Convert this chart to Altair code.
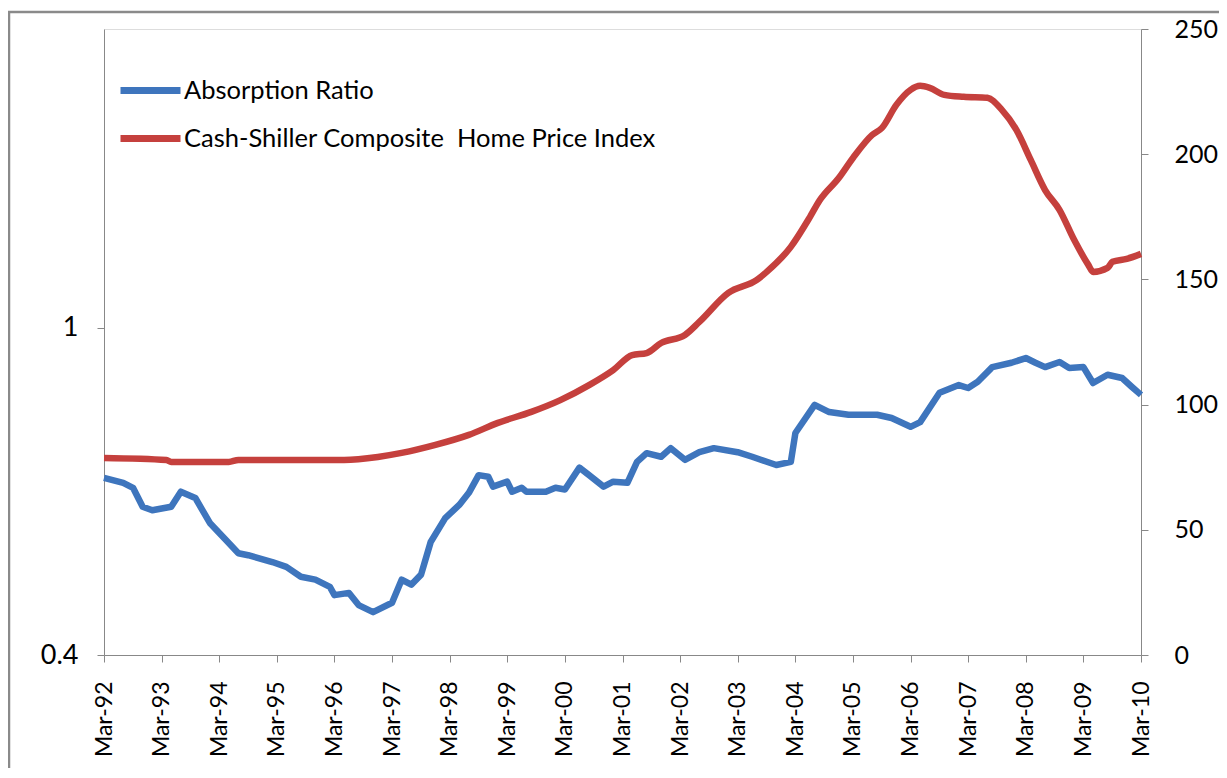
import altair as alt
import pandas as pd

# ---- data ----
ar_dates = ["1992-03", "1992-07", "1992-09", "1992-11", "1993-01", "1993-05", "1993-07", "1993-10",
            "1994-01", "1994-04", "1994-07", "1994-09", "1995-02", "1995-05", "1995-08", "1995-11",
            "1996-02", "1996-03", "1996-06", "1996-08", "1996-11", "1997-03", "1997-05", "1997-07",
            "1997-09", "1997-11", "1998-02", "1998-05", "1998-07", "1998-09", "1998-11", "1998-12",
            "1999-03", "1999-04", "1999-06", "1999-07", "1999-11", "2000-01", "2000-03", "2000-06",
            "2000-08", "2000-11", "2001-01", "2001-04", "2001-06", "2001-08", "2001-11", "2002-01",
            "2002-04", "2002-07", "2002-10", "2003-03", "2003-06", "2003-11", "2004-02", "2004-03",
            "2004-07", "2004-10", "2005-02", "2005-08", "2005-11", "2006-03", "2006-05", "2006-09",
            "2007-01", "2007-03", "2007-05", "2007-08", "2007-12", "2008-03", "2008-05", "2008-07",
            "2008-10", "2008-12", "2009-03", "2009-05", "2009-08", "2009-11", "2010-01", "2010-03"]
ar_values = [0.657, 0.648, 0.639, 0.606, 0.600, 0.606, 0.632, 0.621,
             0.579, 0.555, 0.532, 0.529, 0.519, 0.512, 0.498, 0.494,
             0.484, 0.473, 0.476, 0.460, 0.451, 0.463, 0.494, 0.487,
             0.501, 0.549, 0.587, 0.609, 0.630, 0.662, 0.659, 0.641,
             0.650, 0.632, 0.639, 0.632, 0.632, 0.639, 0.636, 0.676,
             0.662, 0.641, 0.650, 0.648, 0.687, 0.704, 0.697, 0.714,
             0.691, 0.706, 0.714, 0.706, 0.697, 0.681, 0.687, 0.745,
             0.806, 0.790, 0.784, 0.784, 0.777, 0.758, 0.768, 0.834,
             0.852, 0.845, 0.860, 0.896, 0.907, 0.919, 0.907, 0.896,
             0.909, 0.894, 0.896, 0.857, 0.877, 0.869, 0.848, 0.829]

hpi_dates = ["1992-03", "1993-04", "1993-05", "1994-05", "1994-07", "1996-05", "1996-12", "1997-05",
             "1997-12", "1998-07", "1999-01", "1999-08", "2000-02", "2000-08", "2001-01", "2001-05",
             "2001-08", "2001-11", "2002-04", "2002-07", "2003-01", "2003-07", "2003-09", "2004-02",
             "2004-06", "2004-08", "2004-12", "2005-03", "2005-07", "2005-09", "2005-12", "2006-03",
             "2006-05", "2006-07", "2006-10", "2007-02", "2007-07", "2007-10", "2008-01", "2008-04",
             "2008-07", "2008-10", "2009-01", "2009-04", "2009-05", "2009-08", "2009-09", "2009-12",
             "2010-03"]
hpi_values = [78.7, 77.9, 77.1, 77.1, 77.9, 77.9, 79.1, 80.7,
              83.9, 87.9, 92.7, 97.1, 101.8, 107.8, 113.8, 119.8,
              120.6, 124.6, 127.8, 133.0, 144.6, 149.8, 153.0, 163.0,
              174.9, 181.5, 190.5, 198.5, 207.7, 210.5, 219.7, 225.7,
              227.3, 226.5, 223.7, 222.9, 222.5, 217.7, 209.7, 197.7,
              185.7, 177.7, 165.8, 155.8, 153.0, 154.6, 157.0, 158.2,
              160.2]

series_names = ["Absorption Ratio", "Cash-Shiller Composite\u00a0 Home Price Index"]
series_colors = ["#3E75BD", "#C5403D"]
tick_years = list(range(1992, 2011))
left_ticks = [0.4, 1]
right_ticks = [0, 50, 100, 150, 200, 250]

ar_df = pd.DataFrame({"date": [d + "-01T00:00:00" for d in ar_dates], "value": ar_values,
                      "series": series_names[0]})
hpi_df = pd.DataFrame({"date": [d + "-01T00:00:00" for d in hpi_dates], "value": hpi_values,
                       "series": series_names[1]})

FONT = "Lato"
AX_COLOR = "#868686"

x_enc = alt.X(
    "date:T",
    scale=alt.Scale(domain=[alt.DateTime(year=1992, month=3, date=1),
                            alt.DateTime(year=2010, month=3, date=1)]),
    axis=alt.Axis(values=[alt.DateTime(year=y, month=3, date=1) for y in tick_years],
                  format="%b-%y", labelAngle=270, title=None, grid=False,
                  tickSize=7, labelPadding=19, labelFontSize=23),
)

color_enc = alt.Color(
    "series:N",
    scale=alt.Scale(domain=series_names, range=series_colors),
    legend=alt.Legend(orient="none", legendX=13, legendY=28, title=None,
                      symbolType="stroke", symbolStrokeWidth=7, symbolSize=3600,
                      labelFontSize=25.5, labelFont=FONT, labelColor="#000000",
                      labelOffset=0, rowPadding=-8, labelLimit=800),
)

blue = alt.Chart(ar_df).mark_line(strokeWidth=6.5, strokeJoin="round").encode(
    x=x_enc,
    y=alt.Y("value:Q",
            scale=alt.Scale(type="log", domain=[0.4, 2.31]),
            axis=alt.Axis(orient="left", values=left_ticks, format="~g", title=None, grid=False,
                          tickSize=7, labelPadding=19, labelFontSize=27)),
    color=color_enc,
)

red = alt.Chart(hpi_df).mark_line(strokeWidth=6.5, strokeJoin="round",
                                  interpolate="monotone").encode(
    x=x_enc,
    y=alt.Y("value:Q",
            scale=alt.Scale(domain=[0, 250]),
            axis=alt.Axis(orient="right", values=right_ticks, title=None, grid=False,
                          tickSize=7, labelPadding=26, labelFontSize=25)),
    color=color_enc,
)

frame = alt.Chart(pd.DataFrame({"k": [0]})).mark_rect(
    fill=None, stroke="#8a8a8a", strokeWidth=2.5, clip=False
).encode(
    x=alt.value(-95), x2=alt.value(1200), y=alt.value(-17), y2=alt.value(800)
)

chart = alt.layer(red, blue, frame).resolve_scale(y="independent").properties(
    width=1037, height=626,
    autosize=alt.AutoSizeParams(type="none"),
    padding={"left": 96, "top": 21, "right": 78, "bottom": 113},
).configure_view(stroke=None).configure_axis(
    domainColor=AX_COLOR, tickColor=AX_COLOR, domainWidth=1.5, tickWidth=1.5,
    labelColor="#000000", labelFont=FONT,
).configure(font=FONT)

chart.save("out.html", embed_options={"renderer": "svg", "actions": False})
